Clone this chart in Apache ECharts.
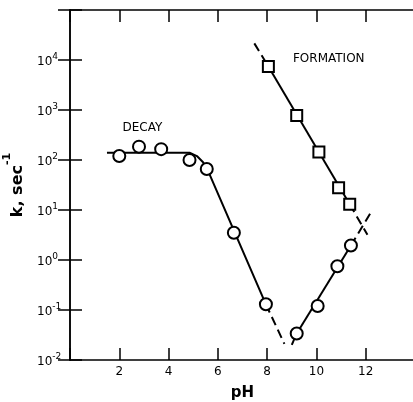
<!DOCTYPE html>
<html>
<head>
<meta charset="utf-8">
<title>k vs pH</title>
<script src="https://cdn.jsdelivr.net/npm/echarts@6/dist/echarts.min.js"></script>
<style>
  html, body { margin: 0; padding: 0; background: #fff; }
  #main { width: 413px; height: 402px; }
</style>
</head>
<body>
<div id="main"></div>
<script>
// measured points
var decayPH = [2.0, 2.8, 3.7, 4.85, 5.55, 6.65, 7.95, 9.2, 10.05, 10.85, 11.4];
var decayK = [120, 185, 165, 100, 66, 3.5, 0.13, 0.034, 0.12, 0.75, 1.95];
var formPH = [8.05, 9.2, 10.1, 10.9, 11.35];
var formK = [7400, 780, 145, 28, 13];

// drawn curves: [pH, k]
var decayFit = [[1.5, 140], [4.85, 140], [5.15, 120], [5.4, 90], [5.62, 58], [7.95, 0.13]];
var decayFitDash = [[7.95, 0.13], [8.7, 0.021]];
var riseFitDash = [[9.0, 0.02], [9.2, 0.034]];
var riseFit = [[9.2, 0.034], [11.4, 1.95]];
var riseFitDash2 = [[11.4, 1.95], [12.27, 10]];
var formFitDash = [[7.48, 21500], [8.05, 7400]];
var formFit = [[8.05, 7400], [11.35, 13]];
var formFitDash2 = [[11.35, 13], [12.07, 3.2]];

// text labels on the plot
var notes = [
  { name: 'DECAY', value: [2.94, 440] },
  { name: 'FORMATION', value: [10.5, 10500] }
];

var pHTicks = [2, 4, 6, 8, 10, 12];

var chart = echarts.init(document.getElementById('main'));
var FONT = 'DejaVu Sans';

function pair(xs, ys) {
  return xs.map(function (x, i) { return [x, ys[i]]; });
}

// line pieces, solid or dashed
function curve(data, dashed) {
  return {
    type: 'line',
    data: data,
    symbol: 'none',
    silent: true,
    z: 2,
    lineStyle: { color: '#000', width: 2, type: dashed ? [9, 5] : 'solid' }
  };
}

function axisLineStyle() {
  return { show: true, lineStyle: { color: '#000', width: 1.5 } };
}

var option = {
  backgroundColor: '#fff',
  animation: false,
  // right border sits just past the picture edge
  grid: { left: 70, width: 345, top: 10, bottom: 42, containLabel: false, outerBoundsMode: 'none' },
  xAxis: [{
    type: 'value',
    min: 0, max: 14, interval: 2,
    name: 'pH',
    nameLocation: 'middle',
    nameGap: 26,
    nameTextStyle: { fontFamily: FONT, fontSize: 15, fontWeight: 'bold', color: '#000' },
    axisLine: axisLineStyle(),
    axisTick: { inside: true, length: 12, lineStyle: { color: '#000', width: 1.5 } },
    axisLabel: {
      fontFamily: FONT, fontSize: 12, color: '#000', margin: 6,
      formatter: function (v) { return pHTicks.indexOf(v) >= 0 ? String(v) : ''; }
    },
    splitLine: { show: false }
  }, {
    type: 'value', position: 'top',
    min: 0, max: 14, interval: 2,
    axisLine: axisLineStyle(),
    axisTick: { inside: true, length: 12, lineStyle: { color: '#000', width: 1.5 } },
    axisLabel: { show: false },
    splitLine: { show: false }
  }],
  yAxis: [{
    type: 'log', logBase: 10,
    min: 0.01, max: 100000,
    name: '{b|k, sec}{s|-1}',
    nameLocation: 'middle',
    nameGap: 34,
    nameTextStyle: {
      rich: {
        b: { fontFamily: FONT, fontSize: 16, fontWeight: 'bold', color: '#000', lineHeight: 24, verticalAlign: 'bottom' },
        s: { fontFamily: FONT, fontSize: 11, fontWeight: 'bold', color: '#000', verticalAlign: 'top' }
      }
    },
    axisLine: axisLineStyle(),
    axisTick: { inside: true, length: 12, lineStyle: { color: '#000', width: 1.5 } },
    axisLabel: {
      align: 'left', margin: 33,
      formatter: function (v) {
        var e = Math.round(Math.log(v) / Math.LN10);
        if (e > 4) return '';
        return '{b|10}{s|' + e + '}';
      },
      rich: {
        b: { fontFamily: FONT, fontSize: 12, color: '#000', lineHeight: 15, verticalAlign: 'bottom' },
        s: { fontFamily: FONT, fontSize: 9, color: '#000', verticalAlign: 'top' }
      }
    },
    splitLine: { show: false },
    minorTick: { show: false }
  }, {
    type: 'log', logBase: 10, position: 'right',
    min: 0.01, max: 100000,
    axisLine: axisLineStyle(),
    axisTick: { inside: true, length: 12, lineStyle: { color: '#000', width: 1.5 } },
    axisLabel: { show: false },
    splitLine: { show: false }
  }],
  series: [
    curve(decayFit, false),
    curve(decayFitDash, true),
    curve(riseFitDash, true),
    curve(riseFit, false),
    curve(riseFitDash2, true),
    curve(formFitDash, true),
    curve(formFit, false),
    curve(formFitDash2, true),
    {
      type: 'scatter',
      data: pair(decayPH, decayK),
      symbol: 'circle',
      symbolSize: 12,
      z: 5,
      itemStyle: { color: '#fff', borderColor: '#000', borderWidth: 2, opacity: 1 }
    },
    {
      type: 'scatter',
      data: pair(formPH, formK),
      symbol: 'rect',
      symbolSize: 11,
      z: 5,
      itemStyle: { color: '#fff', borderColor: '#000', borderWidth: 2, opacity: 1 }
    },
    {
      type: 'scatter',
      data: notes,
      symbolSize: 0,
      silent: true,
      itemStyle: { opacity: 1 },
      label: {
        show: true, position: 'inside',
        formatter: '{b}',
        fontFamily: FONT, fontSize: 12, color: '#000', opacity: 1
      }
    }
  ]
};

chart.setOption(option);
</script>
</body>
</html>
